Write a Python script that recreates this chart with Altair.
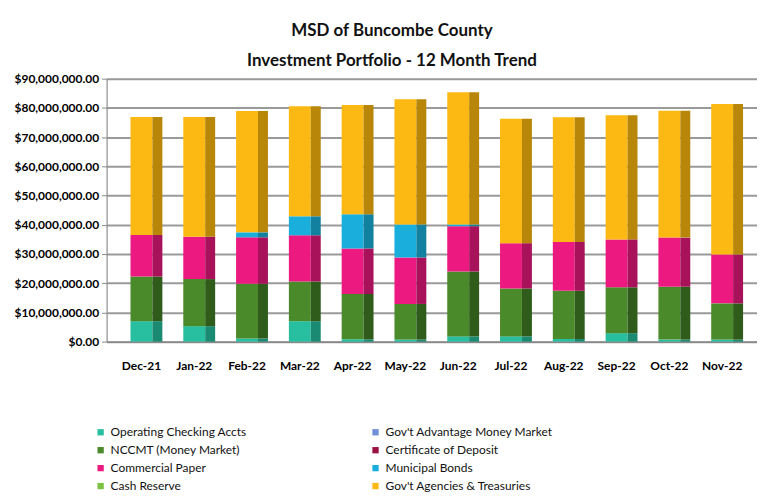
import altair as alt
import pandas as pd

months = ["Dec-21", "Jan-22", "Feb-22", "Mar-22", "Apr-22", "May-22",
          "Jun-22", "Jul-22", "Aug-22", "Sep-22", "Oct-22", "Nov-22"]

# legend order (column by column, as in the reference)
series = ["Operating Checking Accts", "NCCMT (Money Market)", "Commercial Paper",
          "Cash  Reserve", "Gov't Advantage Money Market", "Certificate of Deposit",
          "Municipal Bonds", "Gov't Agencies & Treasuries"]

# values in dollars
operating = [7.0e6, 5.3e6, 1.1e6, 7.0e6, 0.8e6, 0.7e6, 1.8e6, 1.8e6, 0.9e6, 2.9e6, 0.7e6, 0.7e6]
nccmt = [15.3e6, 16.1e6, 18.7e6, 13.6e6, 15.5e6, 12.2e6, 22.2e6, 16.4e6, 16.5e6, 15.7e6, 18.1e6, 12.4e6]
commercial = [14.2e6, 14.5e6, 15.9e6, 15.8e6, 15.6e6, 15.9e6, 15.5e6, 15.5e6, 16.7e6, 16.4e6, 16.8e6, 16.7e6]
cash = [0] * 12
govt_adv = [0] * 12
cd = [0] * 12
municipal = [0, 0, 1.7e6, 6.5e6, 11.7e6, 11.3e6, 0.6e6, 0, 0, 0, 0, 0]
agencies = [40.4e6, 41.0e6, 41.5e6, 37.7e6, 37.4e6, 42.9e6, 45.3e6, 42.6e6, 42.7e6, 42.5e6, 43.4e6, 51.5e6]

front_colors = ["#27BFA0", "#4A8A2A", "#EC1A80", "#7CC242",
                "#6F8FD8", "#9A1040", "#1AAEDD", "#FDB913"]
side_colors = ["#1A8A72", "#2F5C1A", "#A8125A", "#5A8F2E",
               "#4E68A0", "#6A0A2C", "#12809F", "#B8870A"]

values = [operating, nccmt, commercial, cash, govt_adv, cd, municipal, agencies]
stack_order = [0, 1, 2, 3, 4, 5, 6, 7]

rows = []
for s, vals, o in zip(series, values, stack_order):
    for m, v in zip(months, vals):
        rows.append({"Month": m, "Series": s, "Value": v, "ord": o})
df = pd.DataFrame(rows)

font = "Lato"

x_enc = alt.X("Month:N", sort=months, title=None,
              scale=alt.Scale(paddingInner=0, paddingOuter=0.16),
              axis=alt.Axis(labelAngle=0, labelFontWeight="bold", labelFontSize=12,
                            labelColor="#000", ticks=False, domainColor="#888",
                            domainWidth=1.5, labelPadding=19))
y_enc = alt.Y("Value:Q", stack="zero", title=None,
              scale=alt.Scale(domain=[0, 90e6], nice=False),
              axis=alt.Axis(format="$,.2f", values=[i * 1e7 for i in range(10)],
                            labelOverlap=False,
                            labelFontWeight="bold", labelFontSize=12, labelColor="#000",
                            gridColor="#9a9a9a", gridWidth=2, domainColor="#888",
                            tickColor="#888", tickSize=5, labelPadding=3))

front = alt.Chart(df).mark_bar(size=22, xOffset=0).encode(
    x=x_enc, y=y_enc,
    color=alt.Color("Series:N", sort=series,
                    scale=alt.Scale(domain=series, range=front_colors),
                    legend=alt.Legend(title=None, orient="none", legendX=-12, legendY=349,
                                      columns=2, columnPadding=123, rowPadding=6,
                                      symbolType="square", symbolSize=40,
                                      labelFontSize=12, labelFont=font, labelColor="#111",
                                      symbolStrokeWidth=0, labelLimit=300)),
    order=alt.Order("ord:Q"),
)

side = alt.Chart(df).mark_bar(size=10, xOffset=16).encode(
    x=x_enc, y=y_enc,
    color=alt.Color("Series:N", sort=series,
                    scale=alt.Scale(domain=series, range=side_colors),
                    legend=None),
    order=alt.Order("ord:Q"),
)

chart = alt.layer(front, side).resolve_scale(color="independent").properties(
    width=653, height=264,
    title=alt.TitleParams(["MSD of Buncombe County", "Investment Portfolio - 12 Month Trend"],
                          fontSize=17, font=font, fontWeight="bold", color="#111",
                          lineHeight=30, anchor="middle", dx=-40, offset=3),
    padding={"left": 5, "top": 13, "right": 0, "bottom": 0},
).configure_view(stroke=None).configure(font=font)

chart.save("out.html", embed_options={"renderer": "svg", "actions": False})
